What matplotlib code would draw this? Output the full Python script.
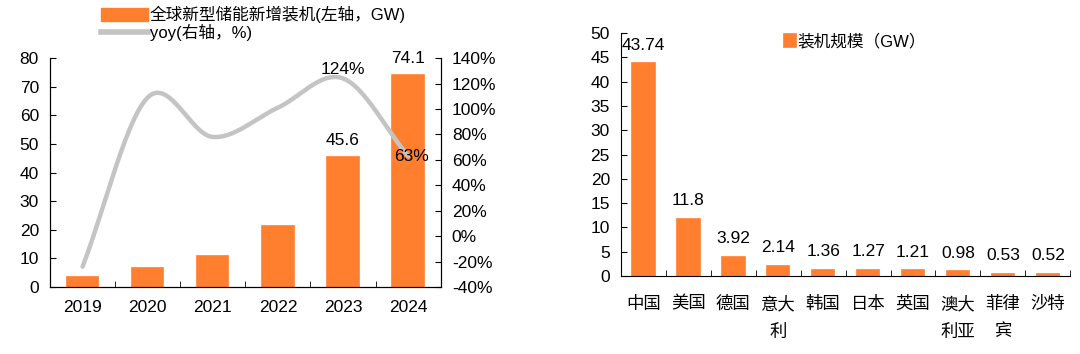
import numpy as np
import matplotlib.pyplot as plt
from matplotlib.patches import Patch
from matplotlib.lines import Line2D

plt.rcParams['font.family'] = ['Liberation Sans', 'Noto Sans CJK SC', 'DejaVu Sans']
plt.rcParams['font.size'] = 12.5

# left chart data
years = ['2019', '2020', '2021', '2022', '2023', '2024']
added_gw = [3.5, 6.5, 11.0, 21.3, 45.6, 74.1]
yoy = [-24, 109, 78, 101, 124, 63]

# right chart data
countries = ['中国', '美国', '德国', '意大\n利', '韩国', '日本', '英国', '澳大\n利亚', '菲律\n宾', '沙特']
capacity = [43.74, 11.8, 3.92, 2.14, 1.36, 1.27, 1.21, 0.98, 0.53, 0.52]
cap_labels = ['43.74', '11.8', '3.92', '2.14', '1.36', '1.27', '1.21', '0.98', '0.53', '0.52']

orange = '#FF7F2F'
grey = '#C4C4C4'


def smooth(x, y, n=30):
    # catmull-rom style curve through the points
    x = np.asarray(x, float)
    y = np.asarray(y, float)
    px = np.concatenate([[2 * x[0] - x[1]], x, [2 * x[-1] - x[-2]]])
    py = np.concatenate([[2 * y[0] - y[1]], y, [2 * y[-1] - y[-2]]])
    xs, ys = [], []
    for i in range(1, len(px) - 2):
        t = np.linspace(0, 1, n)
        for p, out in ((px, xs), (py, ys)):
            p0, p1, p2, p3 = p[i - 1], p[i], p[i + 1], p[i + 2]
            out.extend(0.5 * (2 * p1 + (-p0 + p2) * t + (2 * p0 - 5 * p1 + 4 * p2 - p3) * t ** 2
                              + (-p0 + 3 * p1 - 3 * p2 + p3) * t ** 3))
    return np.array(xs), np.array(ys)


fig = plt.figure(figsize=(10.8, 3.54), dpi=100)

# ---- left: global new storage additions ----
ax = fig.add_axes([0.0463, 0.189, 0.3617, 0.647])
x = np.arange(len(years))
ax.bar(x, added_gw, width=0.48, color=orange, edgecolor=orange, linewidth=1.2)
ax.set_xlim(-0.5, len(years) - 0.5)
ax.set_ylim(0, 80)
ax.set_yticks(range(0, 81, 10))
ax.set_xticks(x)
ax.set_xticklabels(years)
ax.set_xticks(np.arange(-0.5, len(years)), minor=True)
ax.tick_params(axis='x', which='major', length=0, pad=9)
ax.tick_params(axis='x', which='minor', direction='in', length=4)
ax.tick_params(axis='y', direction='in', length=4, pad=8)
ax.spines['top'].set_visible(False)
ax.text(4, added_gw[4] + 3, '45.6', ha='center', va='bottom')
ax.text(5, added_gw[5] + 3, '74.1', ha='center', va='bottom')

ax2 = ax.twinx()
sx, sy = smooth(x, yoy)
ax2.plot(sx, sy, color=grey, lw=3.2, solid_capstyle='round')
ax2.set_ylim(-40, 140)
ax2.set_yticks(range(-40, 141, 20))
ax2.set_yticklabels([f'{v}%' for v in range(-40, 141, 20)])
ax2.tick_params(axis='y', direction='in', length=4, pad=8)
ax2.spines['top'].set_visible(False)
ax2.text(4, yoy[4] + 1, '124%', ha='center', va='bottom')
ax2.text(5.05, yoy[5], '63%', ha='center', va='center')

handles = [Patch(color=orange), Line2D([], [], color=grey, lw=4)]
fig.legend(handles, ['全球新型储能新增装机(左轴，GW)', 'yoy(右轴，%)'],
           loc='upper left', bbox_to_anchor=(0.08, 1.025), frameon=False, fontsize=12,
           handlelength=2.8, handleheight=0.8, handletextpad=0.1, labelspacing=0.0)

# ---- right: installations by country ----
bx = fig.add_axes([0.575, 0.22, 0.416, 0.687])
xc = np.arange(len(countries))
bx.bar(xc, capacity, width=0.5, color=orange, edgecolor=orange, linewidth=1.2,
       label='装机规模（GW）')
bx.set_xlim(-0.5, len(countries) - 0.5)
bx.set_ylim(0, 50)
bx.set_yticks(range(0, 51, 5))
bx.set_xticks(xc)
bx.set_xticklabels(countries, linespacing=1.9, va='top')
bx.set_xticks(np.arange(-0.5, len(countries)), minor=True)
bx.tick_params(axis='x', which='major', length=0, pad=14)
bx.tick_params(axis='x', which='minor', direction='in', length=4)
bx.tick_params(axis='y', direction='in', length=4, pad=8)
for s in ['top', 'right']:
    bx.spines[s].set_visible(False)
for xi, v, t in zip(xc, capacity, cap_labels):
    bx.text(xi, v + 2.2, t, ha='center', va='bottom')
bx.legend(loc='upper left', bbox_to_anchor=(0.33, 1.06), frameon=False, fontsize=12,
          handlelength=0.7, handleheight=0.9, handletextpad=0.1)

fig.savefig('out.png', dpi=100)
